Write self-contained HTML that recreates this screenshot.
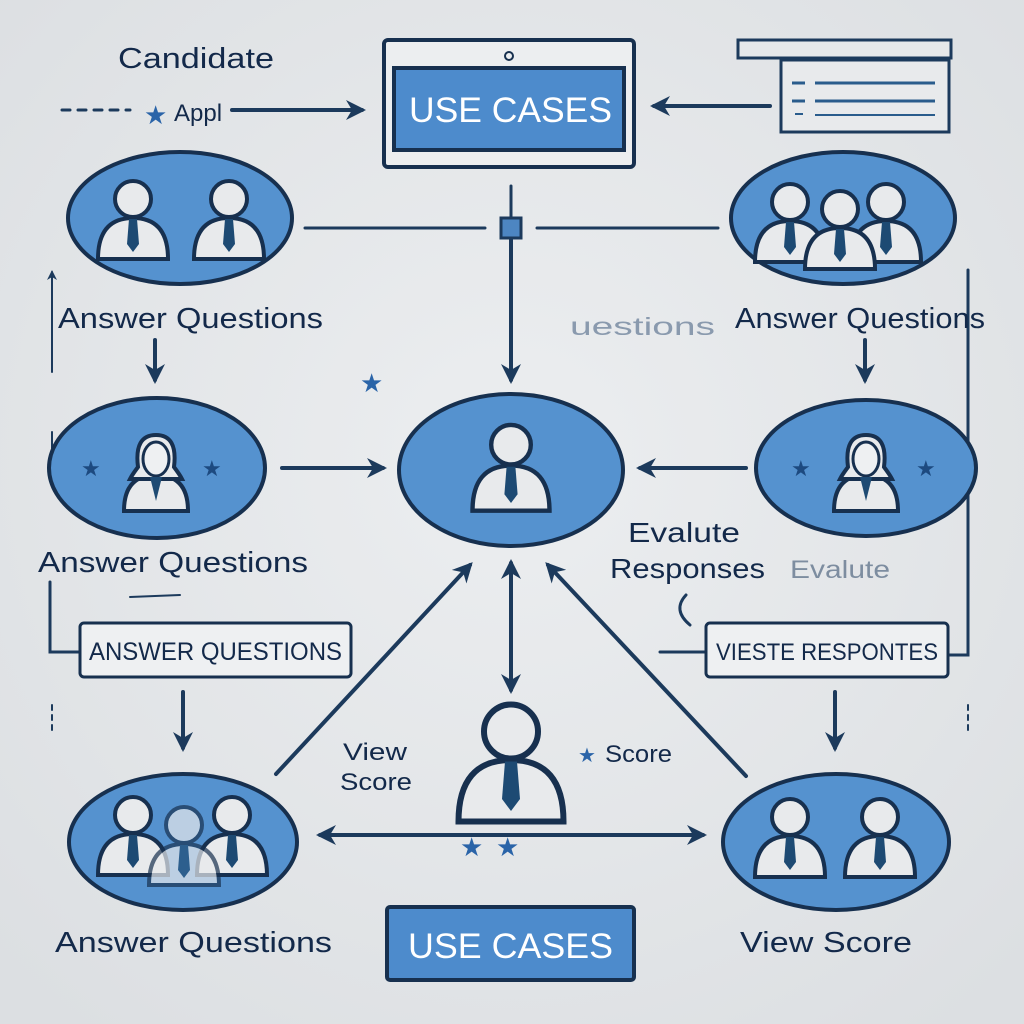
<!DOCTYPE html>
<html><head><meta charset="utf-8"><style>
html,body{margin:0;padding:0;background:#e4e6e8;}
svg{display:block;}
text{font-family:"Liberation Sans",sans-serif;fill:#13294a;}
</style></head><body>
<svg width="1024" height="1024" viewBox="0 0 1024 1024" xmlns="http://www.w3.org/2000/svg">
<defs>
<radialGradient id="bg" cx="50%" cy="45%" r="70%"><stop offset="0" stop-color="#eceef0"/><stop offset="1" stop-color="#dcdfe2"/></radialGradient>
<marker id="ah" viewBox="0 0 10 10" refX="8" refY="5" markerWidth="5" markerHeight="5" orient="auto-start-reverse"><path d="M0,0 L10,5 L0,10 L3,5 Z" fill="#1c3a5c"/></marker>
<g id="p">
<path d="M-35,37 Q-35,-4 0,-4 Q35,-4 35,37 Z" fill="#e8eaec" stroke="#17304f" stroke-width="4"/>
<circle cx="0" cy="-23" r="18" fill="#e8eaec" stroke="#17304f" stroke-width="4"/>
<path d="M-4,-3 L4,-3 L6,22 L0,30 L-6,22 Z" fill="#1d4a73"/>
</g>
<g id="w">
<path d="M-32,36 Q-32,0 0,0 Q32,0 32,36 Z" fill="#e8eaec" stroke="#17304f" stroke-width="4"/>
<path d="M-18,-8 Q-22,-40 0,-40 Q22,-40 18,-8 Q24,0 26,4 L-26,4 Q-24,0 -18,-8Z" fill="#e8eaec" stroke="#17304f" stroke-width="4"/>
<ellipse cx="0" cy="-16" rx="13" ry="17" fill="#eef0f2" stroke="#17304f" stroke-width="3"/>
<path d="M-6,2 L6,2 L0,26 Z" fill="#1d4a73"/>
</g>
</defs>
<rect width="1024" height="1024" fill="url(#bg)"/>

<g stroke="#1c3a5c" stroke-width="4" fill="none" stroke-linecap="round">
<line x1="62" y1="110" x2="130" y2="110" stroke-dasharray="8,8" stroke-width="3"/>
<line x1="232" y1="110" x2="362" y2="110" marker-end="url(#ah)"/>
<line x1="770" y1="106" x2="654" y2="106" marker-end="url(#ah)"/>
<line x1="305" y1="228" x2="485" y2="228" stroke-width="3"/>
<line x1="537" y1="228" x2="718" y2="228" stroke-width="3"/>
<line x1="511" y1="186" x2="511" y2="218" stroke-width="3"/>
<line x1="511" y1="240" x2="511" y2="380" marker-end="url(#ah)"/>
<line x1="155" y1="340" x2="155" y2="380" marker-end="url(#ah)"/>
<line x1="865" y1="340" x2="865" y2="380" marker-end="url(#ah)"/>
<line x1="282" y1="468" x2="383" y2="468" marker-end="url(#ah)"/>
<line x1="746" y1="468" x2="640" y2="468" marker-end="url(#ah)"/>
<line x1="183" y1="692" x2="183" y2="748" marker-end="url(#ah)"/>
<line x1="835" y1="692" x2="835" y2="748" marker-end="url(#ah)"/>
<line x1="276" y1="774" x2="470" y2="565" marker-end="url(#ah)"/>
<line x1="746" y1="776" x2="548" y2="565" marker-end="url(#ah)"/>
<line x1="511" y1="690" x2="511" y2="563" marker-end="url(#ah)" marker-start="url(#ah)"/>
<line x1="320" y1="835" x2="703" y2="835" marker-end="url(#ah)" marker-start="url(#ah)"/>
<line x1="52" y1="372" x2="52" y2="272" stroke-width="2" marker-end="url(#ah)"/>
<line x1="52" y1="432" x2="52" y2="448" stroke-width="2"/>
<polyline points="50,582 50,652 80,652" stroke-width="3"/>
<line x1="52" y1="705" x2="52" y2="735" stroke-width="2" stroke-dasharray="5,5"/>
<polyline points="968,270 968,655 948,655" stroke-width="3"/>
<line x1="968" y1="705" x2="968" y2="735" stroke-width="2" stroke-dasharray="5,5"/>
<line x1="660" y1="652" x2="706" y2="652" stroke-width="3"/>
<path d="M686,595 Q672,610 690,625" stroke-width="3"/>
<line x1="130" y1="597" x2="180" y2="595" stroke-width="2"/>
</g>
<rect x="501" y="218" width="20" height="20" fill="#4d86c2" stroke="#1c3a5c" stroke-width="3"/>

<rect x="384" y="40" width="250" height="127" rx="4" fill="#eceef0" stroke="#17304f" stroke-width="4"/>
<rect x="394" y="68" width="230" height="82" fill="#4d8bcc" stroke="#17304f" stroke-width="4"/>
<text x="409" y="122" font-size="35" textLength="203" lengthAdjust="spacingAndGlyphs" style="fill:#fff">USE CASES</text>
<circle cx="509" cy="56" r="4" fill="none" stroke="#17304f" stroke-width="2"/>
<rect x="738" y="40" width="213" height="18" fill="#e6e8ea" stroke="#1c3a5c" stroke-width="3"/>
<rect x="781" y="60" width="168" height="72" fill="#e8eaec" stroke="#1c3a5c" stroke-width="3"/>
<g stroke="#2a5c8c" stroke-width="3"><line x1="792" y1="83" x2="805" y2="83"/><line x1="815" y1="83" x2="935" y2="83"/><line x1="792" y1="101" x2="805" y2="101"/><line x1="815" y1="101" x2="935" y2="101"/><line x1="795" y1="114" x2="803" y2="114" stroke-width="2"/><line x1="815" y1="115" x2="935" y2="115" stroke-width="2"/></g>

<g fill="#5592cf" stroke="#17304f" stroke-width="4">
<ellipse cx="180" cy="218" rx="112" ry="66"/>
<ellipse cx="843" cy="218" rx="112" ry="66"/>
<ellipse cx="157" cy="468" rx="108" ry="70"/>
<ellipse cx="511" cy="470" rx="112" ry="76"/>
<ellipse cx="866" cy="468" rx="110" ry="68"/>
<ellipse cx="183" cy="842" rx="114" ry="68"/>
<ellipse cx="836" cy="842" rx="113" ry="68"/>
</g>
<use href="#p" x="133" y="222"/><use href="#p" x="229" y="222"/>
<use href="#p" x="790" y="225"/><use href="#p" x="886" y="225"/><use href="#p" x="840" y="232"/>
<use href="#w" x="156" y="475"/><use href="#w" x="866" y="475"/>
<use href="#p" transform="translate(511,470) scale(1.1)"/>
<use href="#p" x="133" y="838"/><use href="#p" x="232" y="838"/><use href="#p" x="184" y="848" opacity="0.7"/>
<use href="#p" x="790" y="840"/><use href="#p" x="880" y="840"/>
<use href="#p" transform="translate(511,766) scale(1.5)"/>

<rect x="387" y="907" width="247" height="73" rx="3" fill="#4d8bcc" stroke="#17304f" stroke-width="4"/>
<text x="408" y="958" font-size="35" textLength="205" lengthAdjust="spacingAndGlyphs" style="fill:#fff">USE CASES</text>
<rect x="80" y="623" width="271" height="54" rx="4" fill="#eef0f2" stroke="#17304f" stroke-width="3"/>
<text x="89" y="660" font-size="25" textLength="253" lengthAdjust="spacingAndGlyphs">ANSWER QUESTIONS</text>
<rect x="706" y="623" width="242" height="54" rx="4" fill="#eef0f2" stroke="#17304f" stroke-width="3"/>
<text x="716" y="660" font-size="24" textLength="222" lengthAdjust="spacingAndGlyphs">VIESTE RESPONTES</text>

<g font-size="26">
<text x="144" y="124" style="fill:#2a64a8">★</text>
<text x="360" y="392" style="fill:#2a64a8">★</text>
<text x="81" y="476" font-size="22" style="fill:#1d4a80">★</text>
<text x="202" y="476" font-size="22" style="fill:#1d4a80">★</text>
<text x="791" y="476" font-size="22" style="fill:#1d4a80">★</text>
<text x="916" y="476" font-size="22" style="fill:#1d4a80">★</text>
<text x="460" y="856" style="fill:#2a64a8">★</text>
<text x="496" y="856" style="fill:#2a64a8">★</text>
<text x="578" y="762" font-size="20" style="fill:#2a64a8">★</text>
</g>
<text x="118" y="68" font-size="29" textLength="156" lengthAdjust="spacingAndGlyphs">Candidate</text>
<text x="174" y="121" font-size="24">Appl</text>
<text x="58" y="328" font-size="29" textLength="265" lengthAdjust="spacingAndGlyphs">Answer Questions</text>
<text x="735" y="328" font-size="29" textLength="250" lengthAdjust="spacingAndGlyphs">Answer Questions</text>
<text x="570" y="335" font-size="25" textLength="145" lengthAdjust="spacingAndGlyphs" style="fill:#8a9aae">uestions</text>
<text x="38" y="572" font-size="29" textLength="270" lengthAdjust="spacingAndGlyphs">Answer Questions</text>
<text x="628" y="542" font-size="28" textLength="112" lengthAdjust="spacingAndGlyphs">Evalute</text>
<text x="610" y="578" font-size="28" textLength="155" lengthAdjust="spacingAndGlyphs">Responses</text>
<text x="790" y="578" font-size="25" textLength="100" lengthAdjust="spacingAndGlyphs" style="fill:#7d8da0">Evalute</text>
<text x="343" y="760" font-size="24" textLength="64" lengthAdjust="spacingAndGlyphs">View</text>
<text x="340" y="790" font-size="24" textLength="72" lengthAdjust="spacingAndGlyphs">Score</text>
<text x="605" y="762" font-size="24" textLength="67" lengthAdjust="spacingAndGlyphs">Score</text>
<text x="55" y="952" font-size="29" textLength="277" lengthAdjust="spacingAndGlyphs">Answer Questions</text>
<text x="740" y="952" font-size="29" textLength="172" lengthAdjust="spacingAndGlyphs">View Score</text>
</svg>
</body></html>
